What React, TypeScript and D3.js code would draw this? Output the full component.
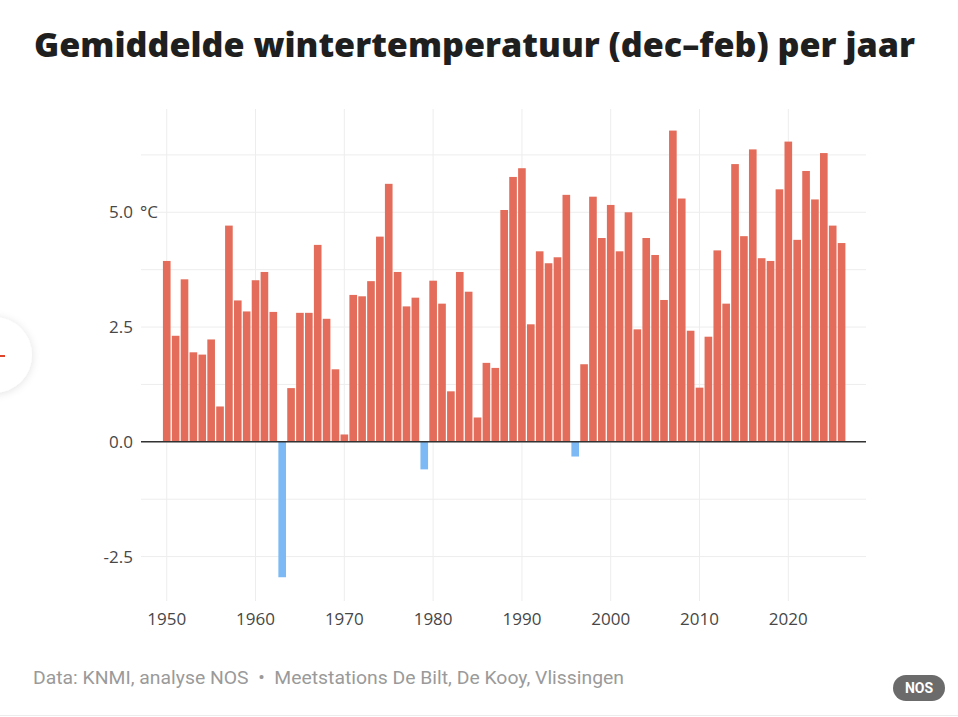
import * as d3 from 'd3';
import React from 'react';

// Winter mean temperature (dec-feb) per year, °C
const years: number[] = d3.range(1950, 2027);
const temps: number[] = [
    3.94, 2.31, 3.54, 1.95, 1.9, 2.23, 0.77, 4.71, 3.08, 2.84,
    3.52, 3.7, 2.83, -2.95, 1.17, 2.81, 2.81, 4.29, 2.68, 1.58,
    0.16, 3.2, 3.17, 3.5, 4.47, 5.62, 3.7, 2.95, 3.14, -0.6,
    3.51, 3.01, 1.1, 3.7, 3.27, 0.53, 1.72, 1.61, 5.05, 5.77,
    5.96, 2.56, 4.15, 3.89, 4.02, 5.38, -0.32, 1.69, 5.34, 4.44,
    5.16, 4.15, 5.0, 2.45, 4.44, 4.07, 3.09, 6.78, 5.3, 2.42,
    1.18, 2.29, 4.17, 3.01, 6.05, 4.48, 6.37, 4.0, 3.94, 5.5,
    6.54, 4.4, 5.9, 5.28, 6.29, 4.71, 4.33,
];
const yTicks: number[] = [-2.5, 0, 2.5, 5];
const yGrid: number[] = [-2.5, -1.25, 0, 1.25, 2.5, 3.75, 5, 6.25];
const xTicks: number[] = [1950, 1960, 1970, 1980, 1990, 2000, 2010, 2020];

const title = 'Gemiddelde wintertemperatuur (dec–feb) per jaar';
const source = 'Data: KNMI, analyse NOS  •  Meetstations De Bilt, De Kooy, Vlissingen';

const W = 958;
const H = 717;
const plot = { left: 141, right: 866, top: 109, bottom: 602.5 };

// plain hyphen for negatives, like the original
const fmt = (v: number) => (v < 0 ? '-' : '') + Math.abs(v).toFixed(1);

const App: React.FC = () => {
    const x = d3.scaleLinear().domain([1947.1, 2028.75]).range([plot.left, plot.right]);
    const y = d3.scaleLinear().domain([-3.5, 7.25]).range([plot.bottom, plot.top]);
    const step = x(1951) - x(1950);
    const bw = step * 0.86;
    const font = '"Open Sans", Lato, sans-serif';

    return (
        <svg width={W} height={H} style={{ position: 'absolute', left: 0, top: 0, background: '#fff' }}>
            <defs>
                <filter id="shadow" x="-50%" y="-50%" width="200%" height="200%">
                    <feDropShadow dx="0" dy="1" stdDeviation="4" floodColor="#000" floodOpacity="0.12" />
                </filter>
            </defs>

            {/* carousel button peeking from the left */}
            <circle cx={-6} cy={355} r={38} fill="#fff" filter="url(#shadow)" />
            <line x1={0} x2={5} y1={356} y2={356} stroke="#e0452b" strokeWidth={2} />

            <text x={34} y={57} fontFamily='"Open Sans", Lato, sans-serif' fontWeight={800} fontSize={33.5}
                fill="#1f1f1f" textLength={881} lengthAdjust="spacingAndGlyphs">
                {title}
            </text>

            {/* grid */}
            {yGrid.map(v => (
                <line key={'h' + v} x1={plot.left} x2={plot.right} y1={y(v)} y2={y(v)} stroke="#ededed" strokeWidth={1} />
            ))}
            {xTicks.map(t => (
                <line key={'v' + t} x1={x(t)} x2={x(t)} y1={plot.top} y2={plot.bottom - 1.5} stroke="#ededed" strokeWidth={1} />
            ))}

            {/* bars */}
            {years.map((yr, i) => {
                const v = temps[i];
                return (
                    <rect
                        key={yr}
                        x={x(yr) - bw / 2}
                        width={bw}
                        y={v >= 0 ? y(v) : y(0)}
                        height={Math.abs(y(v) - y(0))}
                        fill={v >= 0 ? '#e36d5a' : '#7dbaf5'}
                    />
                );
            })}

            <line x1={plot.left} x2={plot.right} y1={y(0)} y2={y(0)} stroke="#333" strokeWidth={1.5} />

            {/* y labels */}
            {yTicks.map(v => (
                <text key={'yl' + v} x={133} y={y(v) + 6} textAnchor="end" fontFamily={font} fontSize={17} fill="#474747">
                    {fmt(v)}
                </text>
            ))}
            <text x={140} y={y(5) + 6} fontFamily={font} fontSize={17} fill="#474747"
                stroke="#fff" strokeWidth={4} paintOrder="stroke">
                °C
            </text>

            {/* x labels */}
            {xTicks.map(t => (
                <text key={'xl' + t} x={x(t)} y={625} textAnchor="middle" fontFamily={font} fontSize={17} fill="#474747">
                    {t}
                </text>
            ))}

            <text x={33} y={684} fontFamily='Roboto, sans-serif' fontSize={18} fill="#9a9a9a"
                textLength={591} lengthAdjust="spacingAndGlyphs" style={{ whiteSpace: 'pre' }}>
                {source}
            </text>

            <rect x={893} y={675} width={52} height={26} rx={13} fill="#6b6b6b" />
            <text x={919} y={693} textAnchor="middle" fontFamily='Roboto, sans-serif' fontWeight={700} fontSize={14} fill="#fff">
                NOS
            </text>

            <line x1={0} x2={W} y1={715.5} y2={715.5} stroke="#ececec" strokeWidth={1} />
        </svg>
    );
};

export default App;
